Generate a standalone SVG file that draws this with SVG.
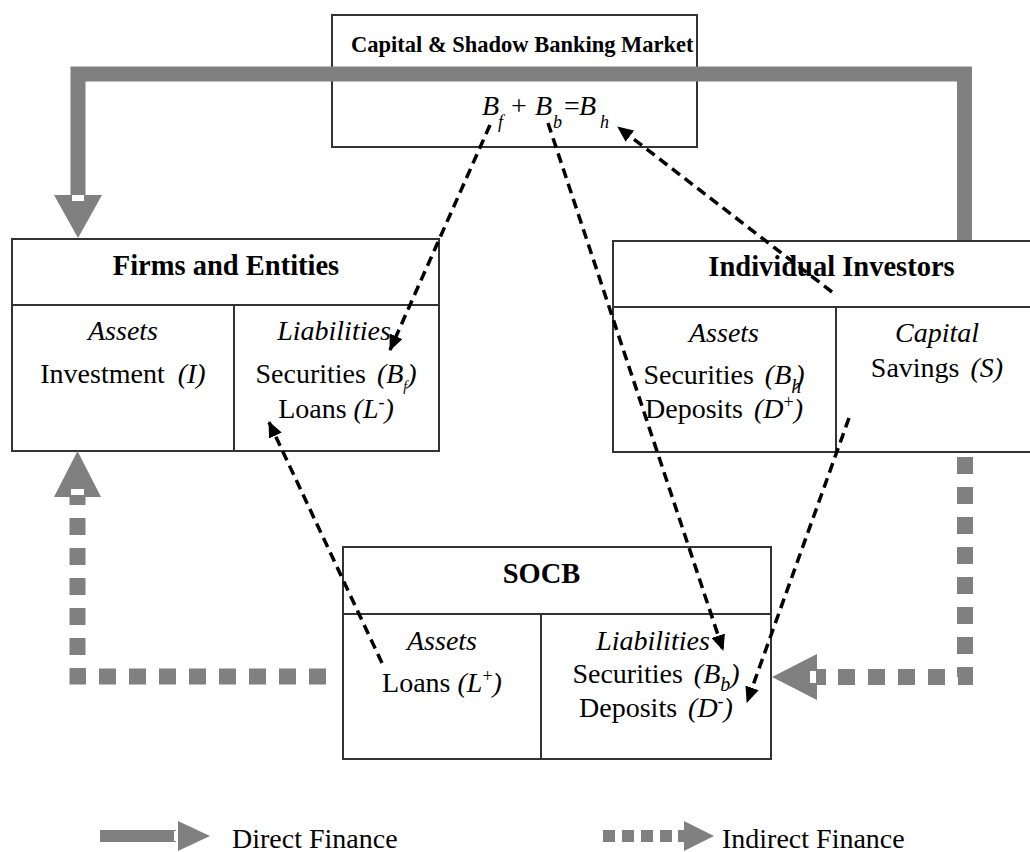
<svg xmlns="http://www.w3.org/2000/svg" width="1030" height="852" viewBox="0 0 1030 852">
<defs>
<style>
text{font-family:"Liberation Serif","Times New Roman",serif;fill:#000;}
.h{font-size:28.5px;font-weight:bold;text-anchor:middle;}
.t{font-size:28px;text-anchor:middle;}
.it{font-style:italic;}
.box{fill:#fff;stroke:#333;stroke-width:2;}
.ln{stroke:#333;stroke-width:2;fill:none;}
.dir{fill:none;stroke:#808080;stroke-width:15;}
.ind{fill:none;stroke:#808080;stroke-width:16;stroke-dasharray:17 13;}
.g{fill:#808080;}
.w{fill:#fff;}
.dash{fill:none;stroke:#000;stroke-width:3.5;stroke-dasharray:10 6;}
</style>
<marker id="ah" viewBox="0 0 16 14" markerWidth="16" markerHeight="14" refX="15" refY="7" orient="auto" markerUnits="userSpaceOnUse">
<path d="M0,0 L16,7 L0,14 z" fill="#000"/>
</marker>
</defs>

<g id="market">
<rect class="box" x="332" y="15" width="365" height="132"/>
<text x="351" y="52" style="font-size:22.5px;font-weight:bold">Capital &amp; Shadow Banking Market</text>
<text class="it" y="115" style="font-size:28px"><tspan x="482">B</tspan><tspan x="498" y="128" style="font-size:18px">f</tspan><tspan x="511" y="115" style="font-style:normal">+</tspan><tspan x="535">B</tspan><tspan x="553" y="128" style="font-size:18px">b</tspan><tspan x="564" y="115" style="font-style:normal">=</tspan><tspan x="579">B</tspan><tspan x="600" y="128" style="font-size:18px">h</tspan></text>
</g>

<g id="direct-finance">
<path class="dir" d="M964.5,241 V74 H78 V198"/>
<polygon class="g" points="54,195 102,195 78,238"/>
<rect class="w" x="72" y="195" width="12" height="6"/>
</g>

<g id="firms">
<rect class="box" x="12" y="239" width="427" height="212"/>
<line class="ln" x1="12" y1="305" x2="439" y2="305"/>
<line class="ln" x1="234" y1="305" x2="234" y2="451"/>
<text class="h" x="226" y="275">Firms and Entities</text>
<text class="t it" x="123" y="340">Assets</text>
<text class="t" x="123" y="383">Investment <tspan class="it" dx="6">(I)</tspan></text>
<text class="t it" x="334" y="340">Liabilities</text>
<text class="t" x="336" y="383">Securities <tspan class="it" dx="4">(B</tspan><tspan class="it" dy="8" style="font-size:14px">f</tspan><tspan class="it" dy="-8">)</tspan></text>
<text class="t" x="336" y="418">Loans <tspan class="it">(L</tspan><tspan dy="-10" style="font-size:18px">-</tspan><tspan class="it" dy="10">)</tspan></text>
</g>

<g id="investors">
<rect class="box" x="613" y="241" width="437" height="211"/>
<line class="ln" x1="613" y1="307" x2="1050" y2="307"/>
<line class="ln" x1="836" y1="307" x2="836" y2="452"/>
<text class="h" x="831.5" y="276">Individual Investors</text>
<text class="t it" x="724" y="342">Assets</text>
<text class="t" x="724" y="384">Securities <tspan class="it" dx="4">(B</tspan><tspan class="it" dy="9" style="font-size:20px">h</tspan><tspan class="it" dy="-9" dx="-6">)</tspan></text>
<text class="t" x="724" y="418">Deposits <tspan class="it" dx="4">(D</tspan><tspan dy="-10" style="font-size:18px">+</tspan><tspan class="it" dy="10">)</tspan></text>
<text class="t it" x="937" y="342">Capital</text>
<text class="t" x="937" y="377">Savings <tspan class="it" dx="4">(S)</tspan></text>
</g>

<g id="socb">
<rect class="box" x="343" y="547" width="428" height="212"/>
<line class="ln" x1="343" y1="614" x2="771" y2="614"/>
<line class="ln" x1="541" y1="614" x2="541" y2="759"/>
<text class="h" x="541.5" y="583">SOCB</text>
<text class="t it" x="442" y="650">Assets</text>
<text class="t" x="442" y="692">Loans <tspan class="it">(L</tspan><tspan dy="-10" style="font-size:18px">+</tspan><tspan class="it" dy="10">)</tspan></text>
<text class="t it" x="653" y="650">Liabilities</text>
<text class="t" x="656" y="683">Securities <tspan class="it" dx="4">(B</tspan><tspan class="it" dy="8" style="font-size:20px">b</tspan><tspan class="it" dy="-8">)</tspan></text>
<text class="t" x="656" y="717">Deposits <tspan class="it" dx="4">(D</tspan><tspan dy="-10" style="font-size:18px">-</tspan><tspan class="it" dy="10">)</tspan></text>
</g>

<g id="indirect-finance">
<path class="ind" d="M326,676.5 H77.5 V505"/>
<rect class="g" x="69.5" y="496" width="16" height="9"/>
<polygon class="g" points="54,497 101,497 77.5,451"/>
<rect class="w" x="71" y="489" width="13" height="6"/>
<path class="ind" d="M965,457 V677 H835"/>
<rect class="g" x="817" y="669" width="9" height="16"/>
<polygon class="g" points="817,654 817,700 772,677"/>
<rect class="w" x="810" y="671" width="6" height="12"/>
</g>

<g id="connectors">
<line class="dash" x1="490" y1="125" x2="390" y2="350" marker-end="url(#ah)"/>
<line class="dash" x1="548" y1="123" x2="723" y2="650" marker-end="url(#ah)"/>
<line class="dash" x1="832" y1="292" x2="618" y2="127" marker-end="url(#ah)"/>
<line class="dash" x1="849" y1="418" x2="747" y2="702" marker-end="url(#ah)"/>
<line class="dash" x1="382" y1="663" x2="269" y2="422" marker-end="url(#ah)"/>
</g>

<g id="legend">
<rect class="g" x="100" y="830" width="76" height="12"/>
<rect class="w" x="174" y="831" width="4" height="10"/>
<polygon class="g" points="178,821 178,851 210,836"/>
<text x="232" y="848" style="font-size:28px">Direct Finance</text>
<rect class="g" x="603" y="830" width="12" height="12"/>
<rect class="g" x="622" y="830" width="12" height="12"/>
<rect class="g" x="641" y="830" width="12" height="12"/>
<rect class="g" x="660" y="830" width="12" height="12"/>
<rect class="g" x="678" y="830" width="6" height="12"/>
<polygon class="g" points="684,821 684,851 714,836"/>
<text x="722" y="848" style="font-size:28px">Indirect Finance</text>
</g>
</svg>
